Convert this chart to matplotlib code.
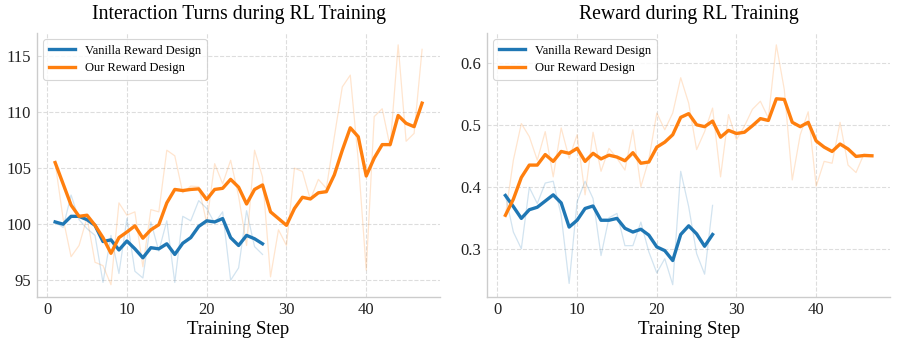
import numpy as np
import matplotlib
matplotlib.use("Agg")
import matplotlib.pyplot as plt

plt.rcParams['font.family'] = ['Liberation Serif', 'DejaVu Serif']

# training steps
steps_ours = list(range(1, 48))
steps_vanilla = list(range(1, 28))

# interaction turns - raw and smoothed
turns_vanilla_raw = [100.2, 99.7, 102.6, 100.4, 99.6, 99.0, 94.8, 99.0, 95.6, 100.5,
                     95.8, 95.2, 100.2, 97.6, 100.3, 94.8, 100.7, 100.3, 102.1, 101.4,
                     100.1, 101.1, 95.0, 96.1, 101.2, 98.0, 97.3]
turns_vanilla_smooth = [100.2, 100.0, 100.7, 100.7, 100.4, 99.9, 98.45, 98.6, 97.7, 98.5,
                        97.8, 97.0, 97.9, 97.8, 98.25, 97.3, 98.3, 98.8, 99.8, 100.3,
                        100.2, 100.5, 98.8, 98.1, 99.0, 98.7, 98.25]
turns_ours_raw = [105.5, 100.5, 97.1, 98.1, 100.6, 96.6, 96.3, 94.6, 101.9, 100.8,
                  101.1, 96.2, 101.3, 101.1, 106.6, 106.1, 102.8, 103.4, 103.35, 100.1,
                  105.4, 103.6, 105.7, 102.5, 98.1, 106.6, 104.2, 95.3, 99.5, 98.1,
                  105.0, 104.7, 102.2, 104.0, 103.2, 107.8, 112.25, 113.3, 105.7, 95.9,
                  109.6, 110.3, 106.9, 116.0, 107.4, 108.1, 115.6]
turns_ours_smooth = [105.5, 103.6, 101.7, 100.7, 100.8, 99.9, 98.8, 97.4, 98.8, 99.3,
                     99.85, 98.75, 99.5, 99.95, 101.9, 103.1, 103.0, 103.1, 103.15, 102.2,
                     103.1, 103.2, 104.0, 103.3, 101.8, 103.1, 103.5, 101.1, 100.5, 99.9,
                     101.4, 102.4, 102.25, 102.8, 102.9, 104.4, 106.6, 108.6, 107.8, 104.3,
                     105.9, 107.1, 107.1, 109.7, 109.0, 108.7, 110.8]

# reward - raw and smoothed
reward_vanilla_raw = [0.387, 0.328, 0.301, 0.400, 0.374, 0.407, 0.410, 0.355, 0.245, 0.377,
                      0.410, 0.382, 0.290, 0.351, 0.358, 0.306, 0.306, 0.344, 0.296, 0.262,
                      0.285, 0.243, 0.426, 0.369, 0.293, 0.260, 0.371]
reward_vanilla_smooth = [0.387, 0.369, 0.350, 0.364, 0.368, 0.378, 0.388, 0.375, 0.336, 0.347,
                         0.366, 0.370, 0.347, 0.347, 0.350, 0.334, 0.328, 0.3325, 0.323, 0.304,
                         0.298, 0.282, 0.324, 0.338, 0.325, 0.305, 0.324]
reward_ours_raw = [0.355, 0.444, 0.503, 0.482, 0.444, 0.490, 0.417, 0.496, 0.447, 0.485,
                   0.388, 0.489, 0.426, 0.463, 0.447, 0.428, 0.493, 0.401, 0.445, 0.520,
                   0.493, 0.520, 0.577, 0.536, 0.461, 0.490, 0.528, 0.417, 0.5175, 0.477,
                   0.499, 0.526, 0.539, 0.512, 0.630, 0.558, 0.412, 0.485, 0.522, 0.402,
                   0.442, 0.439, 0.505, 0.436, 0.424, 0.454, 0.4526]
reward_ours_smooth = [0.355, 0.381, 0.416, 0.436, 0.436, 0.453, 0.442, 0.458, 0.455, 0.463,
                      0.442, 0.455, 0.446, 0.452, 0.449, 0.443, 0.456, 0.439, 0.441, 0.465,
                      0.473, 0.485, 0.513, 0.519, 0.501, 0.498, 0.507, 0.481, 0.492, 0.487,
                      0.489, 0.4995, 0.511, 0.508, 0.543, 0.542, 0.505, 0.498, 0.505, 0.475,
                      0.465, 0.458, 0.470, 0.462, 0.450, 0.4515, 0.451]

blue = '#1f77b4'
orange = '#ff7f0e'

fig = plt.figure(figsize=(8.97, 3.46), dpi=100)
ax1 = fig.add_axes([0.041, 0.1425, 0.450, 0.7625])
ax2 = fig.add_axes([0.543, 0.1425, 0.4495, 0.7625])

panels = [
    (ax1, 'Interaction Turns during RL Training',
     turns_vanilla_raw, turns_vanilla_smooth, turns_ours_raw, turns_ours_smooth),
    (ax2, 'Reward during RL Training',
     reward_vanilla_raw, reward_vanilla_smooth, reward_ours_raw, reward_ours_smooth),
]

for ax, title, v_raw, v_sm, o_raw, o_sm in panels:
    ax.plot(steps_vanilla, v_raw, color=blue, lw=0.9, alpha=0.2)
    ax.plot(steps_ours, o_raw, color=orange, lw=0.9, alpha=0.2)
    ax.plot(steps_vanilla, v_sm, color=blue, lw=2.4, label='Vanilla Reward Design')
    ax.plot(steps_ours, o_sm, color=orange, lw=2.4, label='Our Reward Design')
    ax.set_title(title, fontsize=14.2, pad=10)
    ax.set_xlabel('Training Step', fontsize=13.5, labelpad=2)
    ax.grid(True, linestyle='--', color='#dddddd', lw=0.8)
    ax.set_axisbelow(True)
    ax.set_xticks([0, 10, 20, 30, 40])
    ax.tick_params(axis='both', length=0, labelsize=12, pad=4, colors='#222222')
    for side in ['top', 'right']:
        ax.spines[side].set_visible(False)
    for side in ['left', 'bottom']:
        ax.spines[side].set_color('#cccccc')
        ax.spines[side].set_linewidth(1.0)
    leg = ax.legend(loc='upper left', fontsize=9, frameon=True, handlelength=2.1,
                    borderpad=0.45, labelspacing=0.45, handletextpad=0.8)
    leg.get_frame().set_edgecolor('#cccccc')
    leg.get_frame().set_linewidth(0.8)

ax1.set_yticks([95, 100, 105, 110, 115])
ax2.set_yticks([0.3, 0.4, 0.5, 0.6])

fig.savefig('out.png', dpi=100)
